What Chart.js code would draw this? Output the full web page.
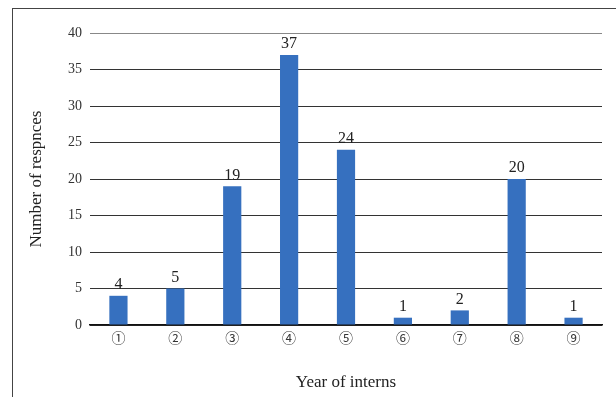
<!DOCTYPE html>
<html>
<head>
<meta charset="utf-8">
<script src="https://cdn.jsdelivr.net/npm/chart.js@4"></script>
<style>
  html, body { margin: 0; padding: 0; background: #fff; }
  #wrap { position: relative; width: 616px; height: 397px; }
  #frame {
    position: absolute; left: 12px; top: 8px; right: -2px; bottom: -2px;
    border-left: 1px solid #444; border-top: 1px solid #444;
  }
  canvas { position: absolute; left: 0; top: 0; }
</style>
</head>
<body>
<div id="wrap">
  <div id="frame"></div>
  <canvas id="internChart" width="616" height="397"></canvas>
</div>
<script>
// Survey results: responses per intern year
const YEARS = ["①", "②", "③", "④", "⑤", "⑥", "⑦", "⑧", "⑨"];
const RESPONSES = [4, 5, 19, 37, 24, 1, 2, 20, 1];

const Y_MIN = 0;
const Y_MAX = 40;
const Y_STEP = 5;

const SERIF = "'Liberation Serif', 'DejaVu Serif', 'Noto Sans CJK JP', serif";

// Writes each bar's value just above it
const barValueLabels = {
  id: "barValueLabels",
  afterDatasetsDraw(chart) {
    const ctx = chart.ctx;
    const meta = chart.getDatasetMeta(0);
    ctx.save();
    ctx.font = "16px " + SERIF;
    ctx.fillStyle = "#222";
    ctx.textAlign = "center";
    ctx.textBaseline = "bottom";
    meta.data.forEach((bar, i) => {
      ctx.fillText(String(RESPONSES[i]), bar.x, bar.y - 3);
    });
    ctx.restore();
  },
};

new Chart(document.getElementById("internChart"), {
  type: "bar",
  data: {
    labels: YEARS,
    datasets: [
      {
        label: "Responses",
        data: RESPONSES,
        backgroundColor: "#3670bf",
        borderWidth: 0,
        categoryPercentage: 1,
        barPercentage: 0.32,
      },
    ],
  },
  options: {
    responsive: false,
    animation: false,
    layout: { padding: { left: 26, right: 14, top: 33, bottom: 0 } },
    plugins: {
      legend: { display: false },
      tooltip: { enabled: false },
    },
    scales: {
      x: {
        grid: { display: false, drawTicks: false },
        border: { color: "#111", width: 1.5 },
        ticks: {
          color: "#333",
          font: { family: SERIF, size: 14 },
          padding: 6,
        },
        title: {
          display: true,
          text: "Year of interns",
          color: "#222",
          font: { family: SERIF, size: 17 },
          padding: { top: 22, bottom: 4 },
        },
        afterFit(scale) {
          scale.height = 72;
        },
      },
      y: {
        min: Y_MIN,
        max: Y_MAX,
        grid: {
          drawTicks: false,
          lineWidth: 1,
          color: (c) => (c.tick && c.tick.value === Y_MAX ? "#888" : "#333"),
        },
        border: { display: false },
        ticks: {
          stepSize: Y_STEP,
          color: "#333",
          font: { family: SERIF, size: 14 },
          padding: 8,
        },
        title: {
          display: true,
          text: "Number of respnces",
          color: "#222",
          font: { family: SERIF, size: 17 },
          padding: { top: 0, bottom: 14 },
        },
        afterFit(scale) {
          scale.width = 64;
        },
      },
    },
  },
  plugins: [barValueLabels],
});
</script>
</body>
</html>
